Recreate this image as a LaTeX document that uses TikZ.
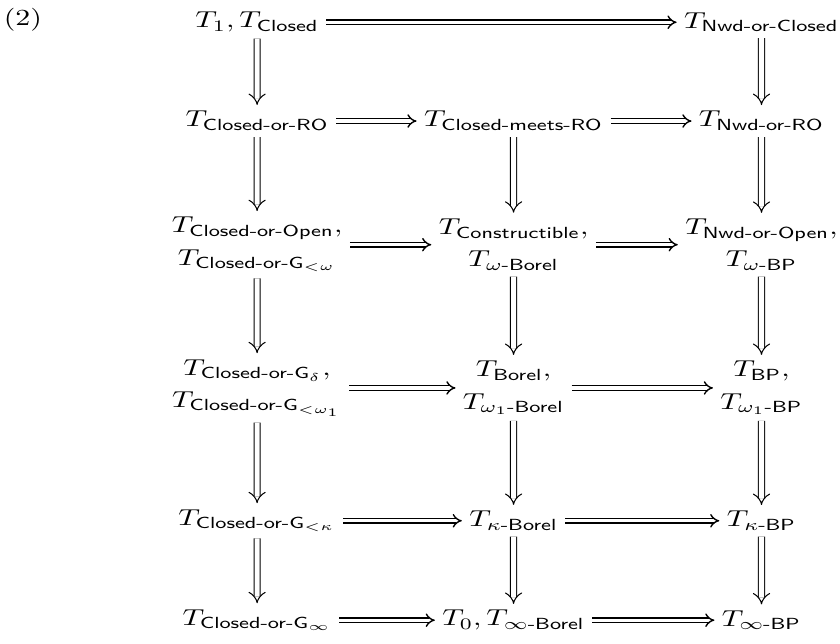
\documentclass[tikz,border=0pt]{standalone}
\usepackage{amsmath}
\usetikzlibrary{arrows.meta}
\newcommand{\Tsub}[1]{T_{\textsf{#1}}}

\begin{document}
\begin{tikzpicture}[every node/.style={xscale=1.3,inner xsep=2.3pt,inner ysep=2.5pt,align=center},
	imp/.style={double,line width=0.6pt,double distance=1.4pt,-{Implies[scale=1.35]}},
	vimp/.style={double,line width=0.45pt,double distance=2.2pt,-{Implies[scale=1.25]}}]
\useasboundingbox (0,0) rectangle (12.84,-9.83);

\node (eq) at (0.35,-0.30) {(2)};

% first two rows
\node (11) at (3.93,-0.34) {$T_1, \Tsub{Closed}$};
\node (13) at (11.64,-0.34) {$\Tsub{Nwd-or-Closed}$};
\node (21) at (3.93,-1.85) {$\Tsub{Closed-or-RO}$};
\node (22) at (7.85,-1.85) {$\Tsub{Closed-meets-RO}$};
\node (23) at (11.64,-1.85) {$\Tsub{Nwd-or-RO}$};

% two-line rows
\node (31) at (3.93,-3.74) {$\Tsub{Closed-or-Open},$\\[2pt]$T_{\textsf{Closed-or-G}_{<\omega}}$};
\node (32) at (7.85,-3.74) {$\Tsub{Constructible},$\\[2pt]$T_{\omega\textsf{-Borel}}$};
\node (33) at (11.64,-3.74) {$\Tsub{Nwd-or-Open},$\\[2pt]$T_{\omega\textsf{-BP}}$};
\node (41) at (3.93,-5.93) {$T_{\textsf{Closed-or-G}_\delta},$\\[2pt]$T_{\textsf{Closed-or-G}_{<\omega_1}}$};
\node (42) at (7.85,-5.93) {$\Tsub{Borel},$\\[2pt]$T_{\omega_1\textsf{-Borel}}$};
\node (43) at (11.64,-5.93) {$\Tsub{BP},$\\[2pt]$T_{\omega_1\textsf{-BP}}$};

% last two rows
\node (51) at (3.93,-7.96) {$T_{\textsf{Closed-or-G}_{<\kappa}}$};
\node (52) at (7.85,-7.96) {$T_{\kappa\textsf{-Borel}}$};
\node (53) at (11.64,-7.96) {$T_{\kappa\textsf{-BP}}$};
\node (61) at (3.93,-9.48) {$T_{\textsf{Closed-or-G}_\infty}$};
\node (62) at (7.85,-9.48) {$T_0, T_{\infty\textsf{-Borel}}$};
\node (63) at (11.64,-9.48) {$T_{\infty\textsf{-BP}}$};

\foreach \a/\b in {11/13,21/22,22/23,31/32,32/33,41/42,42/43,51/52,52/53,61/62,62/63}
	\draw[imp](\a)--(\b);
\foreach \a/\b in {11/21,21/31,31/41,41/51,51/61,22/32,32/42,42/52,52/62,13/23,23/33,33/43,43/53,53/63}
	\draw[vimp](\a)--(\b);
\end{tikzpicture}
\end{document}
